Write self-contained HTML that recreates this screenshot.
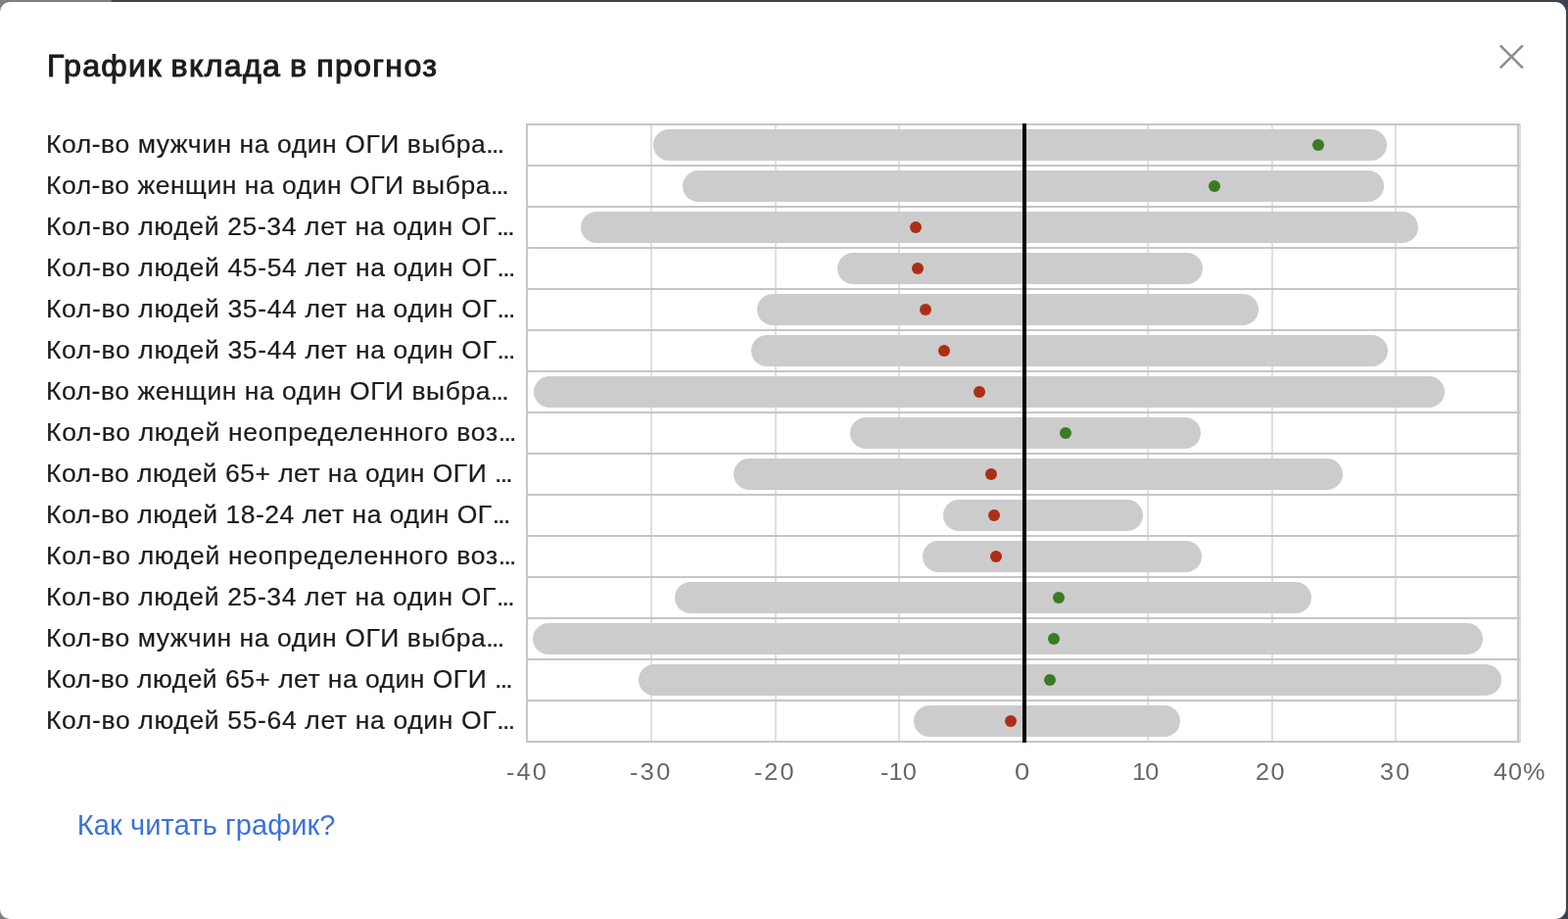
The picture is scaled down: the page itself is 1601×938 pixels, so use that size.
<!DOCTYPE html>
<html lang="ru">
<head>
<meta charset="utf-8">
<title>График вклада в прогноз</title>
<style>
*{box-sizing:border-box;margin:0;padding:0}
html,body{width:1601px;height:938px;overflow:hidden}
body{position:relative;font-family:"Liberation Sans",sans-serif;background:linear-gradient(to right,#808080 0,#808080 113px,#3c434c 115px,#3c434c 100%)}
.modal{position:absolute;left:0;top:2px;width:1599px;height:936px;background:#fff;border-radius:10px 11px 11px 10px;overflow:hidden}
.t{position:absolute;display:block;white-space:nowrap;transform-origin:0 50%}
.title{font-size:31.5px;line-height:36px;font-weight:400;color:#1c1c1c;-webkit-text-stroke:1px #1c1c1c;word-spacing:-1.5px}
.lbl{height:42px;line-height:42px;font-size:25px;color:#1c1c1c;-webkit-text-stroke:0.2px #1c1c1c}
.chart{position:absolute;left:0;top:0;width:1599px;height:936px}
.e{letter-spacing:-1.6px}
.tick{font-size:23px;line-height:32px;color:#666}
.link{font-size:29px;line-height:36px;color:#3b72db;text-decoration:none}
</style>
</head>
<body>
<div class="modal">
<svg class="chart" viewBox="0 2 1599 936">
<rect x="664" y="127" width="2" height="630" fill="#dfdfdf"/>
<rect x="791" y="127" width="2" height="630" fill="#dfdfdf"/>
<rect x="917" y="127" width="2" height="630" fill="#dfdfdf"/>
<rect x="1171" y="127" width="2" height="630" fill="#dfdfdf"/>
<rect x="1298" y="127" width="2" height="630" fill="#dfdfdf"/>
<rect x="1424" y="127" width="2" height="630" fill="#dfdfdf"/>
<rect x="537" y="126" width="2" height="632" fill="#c6c6c6"/>
<rect x="1549" y="126" width="2" height="632" fill="#c6c6c6"/>
<rect x="1551" y="127" width="2" height="630" fill="#dfdfdf"/>
<rect x="667" y="132" width="749" height="32" rx="16" fill="#cccccc"/>
<rect x="697" y="174" width="716" height="32" rx="16" fill="#cccccc"/>
<rect x="593" y="216" width="855" height="32" rx="16" fill="#cccccc"/>
<rect x="855" y="258" width="373" height="32" rx="16" fill="#cccccc"/>
<rect x="773" y="300" width="512" height="32" rx="16" fill="#cccccc"/>
<rect x="767" y="342" width="650" height="32" rx="16" fill="#cccccc"/>
<rect x="545" y="384" width="930" height="32" rx="16" fill="#cccccc"/>
<rect x="868" y="426" width="358" height="32" rx="16" fill="#cccccc"/>
<rect x="749" y="468" width="622" height="32" rx="16" fill="#cccccc"/>
<rect x="963" y="510" width="204" height="32" rx="16" fill="#cccccc"/>
<rect x="942" y="552" width="285" height="32" rx="16" fill="#cccccc"/>
<rect x="689" y="594" width="650" height="32" rx="16" fill="#cccccc"/>
<rect x="544" y="636" width="970" height="32" rx="16" fill="#cccccc"/>
<rect x="652" y="678" width="881" height="32" rx="16" fill="#cccccc"/>
<rect x="933" y="720" width="272" height="32" rx="16" fill="#cccccc"/>
<rect x="537" y="126" width="1015.5" height="2" fill="#c6c6c6"/>
<rect x="537" y="168" width="1015.5" height="2" fill="#c6c6c6"/>
<rect x="537" y="210" width="1015.5" height="2" fill="#c6c6c6"/>
<rect x="537" y="252" width="1015.5" height="2" fill="#c6c6c6"/>
<rect x="537" y="294" width="1015.5" height="2" fill="#c6c6c6"/>
<rect x="537" y="336" width="1015.5" height="2" fill="#c6c6c6"/>
<rect x="537" y="378" width="1015.5" height="2" fill="#c6c6c6"/>
<rect x="537" y="420" width="1015.5" height="2" fill="#c6c6c6"/>
<rect x="537" y="462" width="1015.5" height="2" fill="#c6c6c6"/>
<rect x="537" y="504" width="1015.5" height="2" fill="#c6c6c6"/>
<rect x="537" y="546" width="1015.5" height="2" fill="#c6c6c6"/>
<rect x="537" y="588" width="1015.5" height="2" fill="#c6c6c6"/>
<rect x="537" y="630" width="1015.5" height="2" fill="#c6c6c6"/>
<rect x="537" y="672" width="1015.5" height="2" fill="#c6c6c6"/>
<rect x="537" y="714" width="1015.5" height="2" fill="#c6c6c6"/>
<rect x="537" y="756" width="1015.5" height="2" fill="#c6c6c6"/>
<rect x="1044" y="126" width="4" height="632" fill="#000"/>
<circle cx="1346" cy="148" r="6" fill="#3a7c22"/>
<circle cx="1240" cy="190" r="6" fill="#3a7c22"/>
<circle cx="935" cy="232" r="6" fill="#ad2e16"/>
<circle cx="937" cy="274" r="6" fill="#ad2e16"/>
<circle cx="945" cy="316" r="6" fill="#ad2e16"/>
<circle cx="964" cy="358" r="6" fill="#ad2e16"/>
<circle cx="1000" cy="400" r="6" fill="#ad2e16"/>
<circle cx="1088" cy="442" r="6" fill="#3a7c22"/>
<circle cx="1012" cy="484" r="6" fill="#ad2e16"/>
<circle cx="1015" cy="526" r="6" fill="#ad2e16"/>
<circle cx="1017" cy="568" r="6" fill="#ad2e16"/>
<circle cx="1081" cy="610" r="6" fill="#3a7c22"/>
<circle cx="1076" cy="652" r="6" fill="#3a7c22"/>
<circle cx="1072" cy="694" r="6" fill="#3a7c22"/>
<circle cx="1032" cy="736" r="6" fill="#ad2e16"/>
<path d="M1531.8 46.4 L1554.8 69.4 M1554.8 46.4 L1531.8 69.4" stroke="#8c8c8c" stroke-width="2.5" fill="none"/>
</svg>
<h2 class="t title" style="left:47.64px;top:47.00px;letter-spacing:1.312px;transform:scale(1.02,1.0)">График вклада в прогноз</h2>
<div class="t lbl" style="left:47.40px;top:124.00px;letter-spacing:0.523px;transform:scale(1.06,1)">Кол-во мужчин на один ОГИ выбра<span class="e">...</span></div>
<div class="t lbl" style="left:47.40px;top:166.00px;letter-spacing:0.491px;transform:scale(1.06,1)">Кол-во женщин на один ОГИ выбра<span class="e">...</span></div>
<div class="t lbl" style="left:47.40px;top:208.00px;letter-spacing:0.599px;transform:scale(1.06,1)">Кол-во людей 25-34 лет на один ОГ<span class="e">...</span></div>
<div class="t lbl" style="left:47.40px;top:250.00px;letter-spacing:0.617px;transform:scale(1.06,1)">Кол-во людей 45-54 лет на один ОГ<span class="e">...</span></div>
<div class="t lbl" style="left:47.40px;top:292.00px;letter-spacing:0.617px;transform:scale(1.06,1)">Кол-во людей 35-44 лет на один ОГ<span class="e">...</span></div>
<div class="t lbl" style="left:47.40px;top:334.00px;letter-spacing:0.617px;transform:scale(1.06,1)">Кол-во людей 35-44 лет на один ОГ<span class="e">...</span></div>
<div class="t lbl" style="left:47.40px;top:376.00px;letter-spacing:0.491px;transform:scale(1.06,1)">Кол-во женщин на один ОГИ выбра<span class="e">...</span></div>
<div class="t lbl" style="left:47.40px;top:418.00px;letter-spacing:0.662px;transform:scale(1.06,1)">Кол-во людей неопределенного воз<span class="e">...</span></div>
<div class="t lbl" style="left:47.40px;top:460.00px;letter-spacing:0.442px;transform:scale(1.06,1)">Кол-во людей 65+ лет на один ОГИ <span class="e">...</span></div>
<div class="t lbl" style="left:47.40px;top:502.00px;letter-spacing:0.478px;transform:scale(1.06,1)">Кол-во людей 18-24 лет на один ОГ<span class="e">...</span></div>
<div class="t lbl" style="left:47.40px;top:544.00px;letter-spacing:0.662px;transform:scale(1.06,1)">Кол-во людей неопределенного воз<span class="e">...</span></div>
<div class="t lbl" style="left:47.40px;top:586.00px;letter-spacing:0.599px;transform:scale(1.06,1)">Кол-во людей 25-34 лет на один ОГ<span class="e">...</span></div>
<div class="t lbl" style="left:47.40px;top:628.00px;letter-spacing:0.523px;transform:scale(1.06,1)">Кол-во мужчин на один ОГИ выбра<span class="e">...</span></div>
<div class="t lbl" style="left:47.40px;top:670.00px;letter-spacing:0.442px;transform:scale(1.06,1)">Кол-во людей 65+ лет на один ОГИ <span class="e">...</span></div>
<div class="t lbl" style="left:47.40px;top:712.00px;letter-spacing:0.612px;transform:scale(1.06,1)">Кол-во людей 55-64 лет на один ОГ<span class="e">...</span></div>
<div class="t tick" style="left:516.78px;top:770.00px;letter-spacing:1.982px;transform:scale(1.1,1)">-40</div>
<div class="t tick" style="left:642.98px;top:770.00px;letter-spacing:2.180px;transform:scale(1.1,1)">-30</div>
<div class="t tick" style="left:770.08px;top:770.00px;letter-spacing:1.771px;transform:scale(1.1,1)">-20</div>
<div class="t tick" style="left:898.68px;top:770.00px;letter-spacing:0.135px;transform:scale(1.1,1)">-10</div>
<div class="t tick" style="left:1036.35px;top:770.00px;letter-spacing:0.500px;transform:scale(1.19,1)">0</div>
<div class="t tick" style="left:1155.69px;top:770.00px;letter-spacing:-0.647px;transform:scale(1.1,1)">10</div>
<div class="t tick" style="left:1282.33px;top:770.00px;letter-spacing:1.259px;transform:scale(1.1,1)">20</div>
<div class="t tick" style="left:1409.21px;top:770.00px;letter-spacing:1.987px;transform:scale(1.1,1)">30</div>
<div class="t tick" style="left:1525.03px;top:770.00px;letter-spacing:0.847px;transform:scale(1.1,1)">40%</div>
<a class="t link" style="left:78.79px;top:822.00px;letter-spacing:0.118px;transform:scale(1.0,1)">Как читать график?</a>
</div>
</body>
</html>
